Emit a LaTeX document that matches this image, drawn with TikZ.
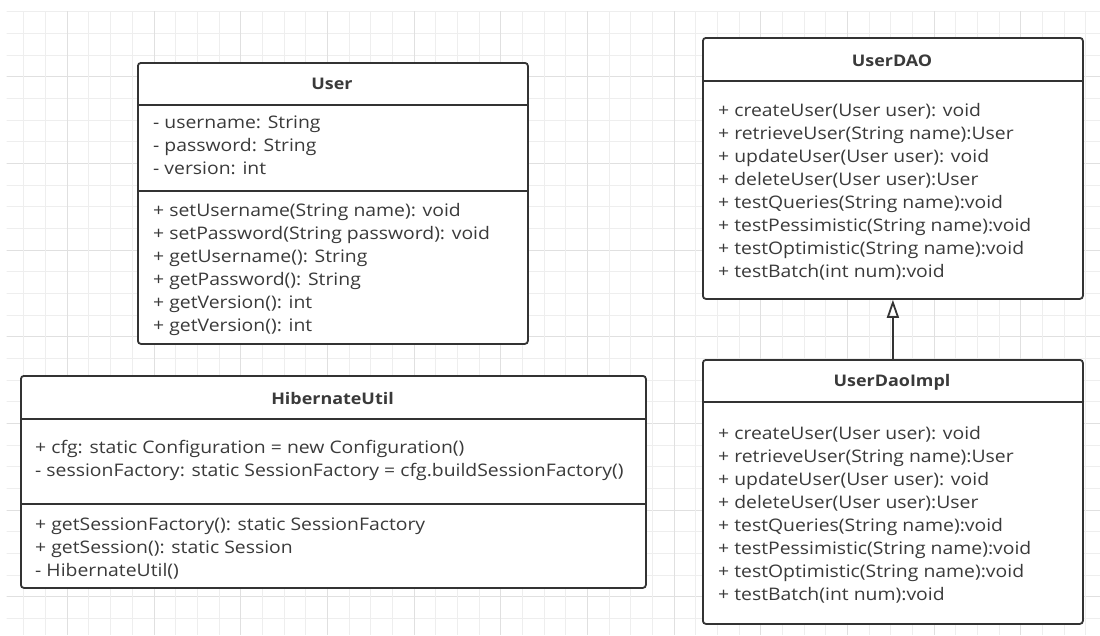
\documentclass[tikz,border=0pt]{standalone}
\usepackage{fontspec}
\setmainfont{Open Sans}[FakeStretch=1.12]
\usetikzlibrary{arrows.meta}
\definecolor{linec}{HTML}{333333}
\definecolor{textc}{HTML}{3A3A3A}
\definecolor{gridminor}{HTML}{EEEEEE}
\definecolor{gridmajor}{HTML}{E0E0E0}
\tikzset{
  classbox/.style={draw=linec, line width=1.8pt, fill=white, rounded corners=3pt, inner sep=0pt, anchor=north west},
  classtitle/.style={font=\bfseries\fontsize{16}{20}\selectfont, text=textc, anchor=base, inner sep=0pt},
  member/.style={font=\fontsize{17.3}{20}\selectfont, text=textc, anchor=base west, inner sep=0pt},
  divider/.style={draw=linec, line width=1.8pt},
  inherit/.style={draw=linec, line width=1.8pt, -{Triangle[open, length=18pt, width=12pt]}},
}
\begin{document}
\begin{tikzpicture}[x=1pt, y=-1pt]
\useasboundingbox (0,0) rectangle (1100,635);
\fill[white] (0,0) rectangle (1100,635);
% grid
\begin{scope}
\clip (6.7,11.7) rectangle (1100,635);
\foreach \k in {0,...,28} {
  \pgfmathtruncatemacro{\m}{mod(\k,4)}
  \ifnum\m=3 \def\gc{gridmajor}\else\def\gc{gridminor}\fi
  \draw[\gc, line width=1pt] (0,11.7+21.667*\k) -- (1100,11.7+21.667*\k);
}
\foreach \k in {1,...,50} {
  \pgfmathtruncatemacro{\m}{mod(\k,4)}
  \ifnum\m=3 \def\gc{gridmajor}\else\def\gc{gridminor}\fi
  \draw[\gc, line width=1pt] (2.33+21.667*\k,0) -- (2.33+21.667*\k,635);
}
\end{scope}

% ---------- User ----------
\node[classbox, minimum width=390pt, minimum height=281pt] (user) at (137,62) {};
\draw[divider] (137,105) -- (527,105);
\draw[divider] (137,191) -- (527,191);
\node[classtitle] (user-t) at (332,89) {User};
\foreach \s [count=\i from 0] in {- username: String, - password: String, - version: int}
  \node[member] (user-a\i) at (153,128+23*\i) {\s};
\foreach \s [count=\i from 0] in {+ setUsername(String name): void, + setPassword(String password): void, + getUsername(): String, + getPassword(): String, + getVersion(): int, + getVersion(): int}
  \node[member] (user-m\i) at (153,216+23*\i) {\s};

% ---------- HibernateUtil ----------
\node[classbox, minimum width=625pt, minimum height=212pt] (hib) at (20,375) {};
\draw[divider] (20,419) -- (645,419);
\draw[divider] (20,504) -- (645,504);
\node[classtitle] (hib-t) at (332.5,404) {HibernateUtil};
\node[member] (hib-a0) at (35,453) {+ cfg: static Configuration = new Configuration()};
\node[member] (hib-a1) at (35,476) {- sessionFactory: static SessionFactory = cfg.buildSessionFactory()};
\node[member] (hib-m0) at (35,530) {+ getSessionFactory(): static SessionFactory};
\node[member] (hib-m1) at (35,553) {+ getSession(): static Session};
\node[member] (hib-m2) at (35,576) {- HibernateUtil()};

% ---------- UserDAO ----------
\node[classbox, minimum width=380pt, minimum height=261pt] (dao) at (702,37) {};
\draw[divider] (702,81) -- (1082,81);
\node[classtitle] (dao-t) at (892,66) {UserDAO};
\foreach \s [count=\i from 0] in {+ createUser(User user): void, + retrieveUser(String name):User, + updateUser(User user): void, + deleteUser(User user):User, + testQueries(String name):void, + testPessimistic(String name):void, + testOptimistic(String name):void, + testBatch(int num):void}
  \node[member] (dao-m\i) at (718,116+23.1*\i) {\s};

% ---------- UserDaoImpl ----------
\node[classbox, minimum width=380pt, minimum height=264pt] (impl) at (702,359) {};
\draw[divider] (702,402) -- (1082,402);
\node[classtitle] (impl-t) at (892,386) {UserDaoImpl};
\foreach \s [count=\i from 0] in {+ createUser(User user): void, + retrieveUser(String name):User, + updateUser(User user): void, + deleteUser(User user):User, + testQueries(String name):void, + testPessimistic(String name):void, + testOptimistic(String name):void, + testBatch(int num):void}
  \node[member] (impl-m\i) at (718,439+23*\i) {\s};

% ---------- inheritance ----------
\draw[inherit] (impl.north) -- (dao.south);
\end{tikzpicture}
\end{document}
